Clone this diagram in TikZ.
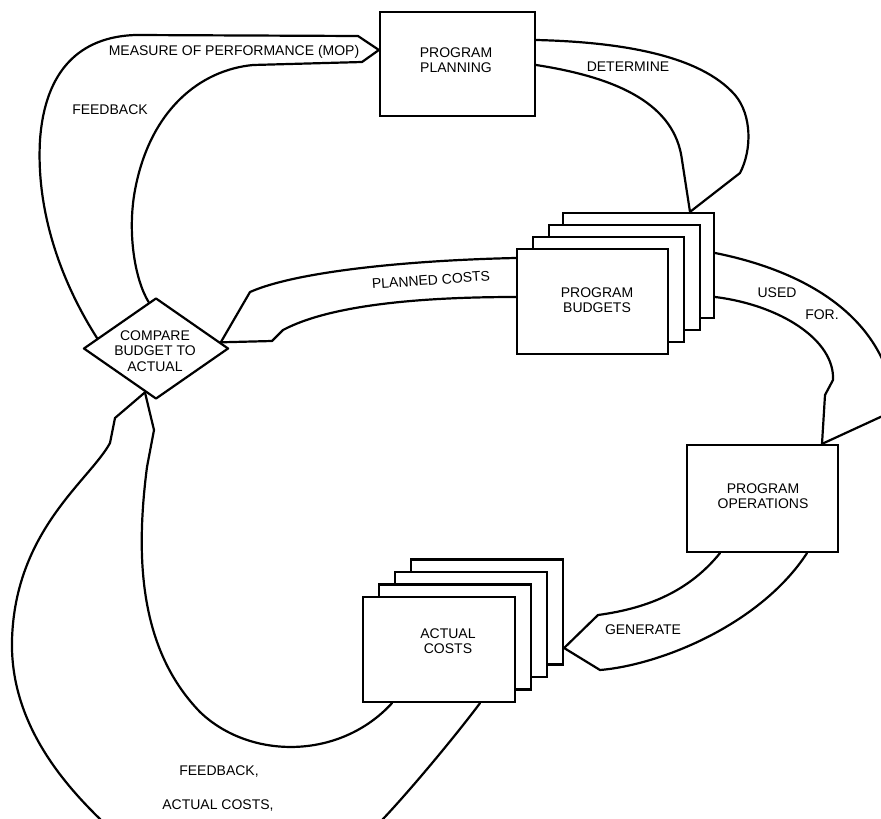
\documentclass[tikz,border=0pt]{standalone}
\usepackage{fontspec}
\setmainfont{Liberation Sans}
\usetikzlibrary{shapes.geometric,calc}
\pgfdeclarelayer{bands}
\pgfsetlayers{bands,main}
\begin{document}
\begin{tikzpicture}[x=1pt,y=-1pt,
  ln/.style={line width=2.2pt, line join=round, line cap=round},
  box/.style={draw, line width=2.2pt, fill=white, rectangle, inner sep=0pt, minimum width=151pt, minimum height=105pt},
  lbl/.style={font=\fontsize{14}{15.5}\selectfont, align=center, inner sep=0pt}
]
\clip (0,0) rectangle (881,819);

% ---- nodes (boxes) ----
\node[box, minimum width=155pt, minimum height=104pt] (plan) at (457.5,64) {};

\node[box] (bud4) at (638.5,265.5) {};
\node[box] (bud3) at (624.5,277.5) {};
\node[box] (bud2) at (608.5,289.5) {};
\node[box] (bud1) at (592.5,301.5) {};

\node[box, minimum height=107pt] (ops) at (762.5,498.5) {};

\node[box, minimum width=152pt] (act4) at (487,612) {};
\node[box, minimum width=152pt] (act3) at (471,624.5) {};
\node[box, minimum width=152pt] (act2) at (455,637) {};
\node[box, minimum width=152pt] (act1) at (439,649.5) {};

\node[draw, line width=2.2pt, line join=round, diamond, minimum width=145pt, minimum height=101pt, inner sep=0pt, fill=white] (cmp) at (156,348.5) {};

% ---- connector anchor coordinates ----
\coordinate (mopTip) at ([yshift=14pt]plan.west);
\coordinate (mopU) at ($(cmp.west)!0.2!(cmp.north)$);
\coordinate (mopL) at ($(cmp.north)!0.1!(cmp.west)$);

\coordinate (detU) at ([yshift=24pt]plan.east);
\coordinate (detL) at ([yshift=-1pt]plan.east);
\coordinate (detTip) at ([xshift=51.5pt]bud4.north);

\coordinate (pcU) at ([yshift=43.5pt]bud1.west);
\coordinate (pcL) at ([yshift=4.5pt]bud1.west);
\coordinate (pcTip) at ($(cmp.north)!0.88!(cmp.east)$);

\coordinate (ufU) at ([yshift=12.5pt]bud4.east);
\coordinate (ufL) at ([yshift=-31.5pt]bud4.east);
\coordinate (ufTip) at ([xshift=59.5pt]ops.north);

\coordinate (gU) at ([xshift=-42.5pt]ops.south);
\coordinate (gL) at ([xshift=44.5pt]ops.south);
\coordinate (gTip) at ([yshift=-36pt]act4.east);

\coordinate (fbTip) at ($(cmp.south)!0.15!(cmp.west)$);
\coordinate (fbI) at ([xshift=-47pt]act1.south);
\coordinate (fbO) at ([xshift=41pt]act1.south);

\begin{pgfonlayer}{bands}
\fill[white] (0,0) rectangle (881,819);
% MOP feedback
\draw[ln] (mopTip) -- (358,36) -- (135,35)
  .. controls (80,37) and (45,70) .. (40,140)
  .. controls (36,210) and (60,280) .. (mopU);
\draw[ln] (mopTip) -- (362,62) -- (253,65)
  .. controls (200,70) and (150,110) .. (135,190)
  .. controls (127,233) and (135,280) .. (mopL);

% Determine
\draw[ln] (detU) .. controls (620,42) and (700,55) .. (735,95)
  .. controls (752,115) and (752,150) .. (740,173) -- (detTip);
\draw[ln] (detL) .. controls (620,78) and (675,105) .. (682,160) -- (detTip);

% Planned costs
\draw[ln] (pcU) .. controls (420,260) and (300,270) .. (250,292) -- (pcTip);
\draw[ln] (pcTip) -- (272,341) -- (283,330) .. controls (330,305) and (420,297) .. (pcL);

% Used for
\draw[ln] (ufU) .. controls (800,270) and (870,310) .. (890,380) -- (900,408) -- (ufTip);
\draw[ln] (ufL) .. controls (780,305) and (835,340) .. (833,380) -- (825,395) -- (ufTip);

% Generate
\draw[ln] (gU) .. controls (690,590) and (650,608) .. (598,615) -- (gTip);
\draw[ln] (gTip) -- (600,670) .. controls (660,665) and (760,625) .. (gL);

% Feedback actual costs
\draw[ln] (fbTip) -- (115,418) -- (110,443)
  .. controls (90,480) and (15,530) .. (12,640)
  .. controls (10,720) and (60,780) .. (100,819)
  .. controls (150,880) and (330,880) .. (383,819)
  .. controls (415,785) and (460,730) .. (fbO);
\draw[ln] (fbTip) -- (154,430) -- (147,467)
  .. controls (135,560) and (140,650) .. (200,712)
  .. controls (250,760) and (340,760) .. (fbI);
\end{pgfonlayer}

% ---- texts ----
\node[lbl] (plantxt) at (456,60) {PROGRAM\\PLANNING};
\node[lbl] (budtxt) at (597,300) {PROGRAM\\BUDGETS};
\node[lbl] (opstxt) at (763,496) {PROGRAM\\OPERATIONS};
\node[lbl] (acttxt) at (448,641) {ACTUAL\\COSTS};
\node[lbl] (cmptxt) at (155,351) {COMPARE\\BUDGET TO\\ACTUAL};

\node[lbl] (mopt) at (234,52) {MEASURE OF PERFORMANCE (MOP)};
\node[lbl] (fb1) at (110,110) {FEEDBACK};
\node[lbl] (dett) at (628,67) {DETERMINE};
\node[lbl, rotate=4] (pct) at (431,280) {PLANNED COSTS};
\node[lbl] (usedt) at (777,293) {USED};
\node[lbl] (fort) at (822,315) {FOR.};
\node[lbl] (gent) at (643,630) {GENERATE};
\node[lbl] (fb2) at (219,771) {FEEDBACK,};
\node[lbl] (acct) at (218,805) {ACTUAL COSTS,};
\end{tikzpicture}
\end{document}
